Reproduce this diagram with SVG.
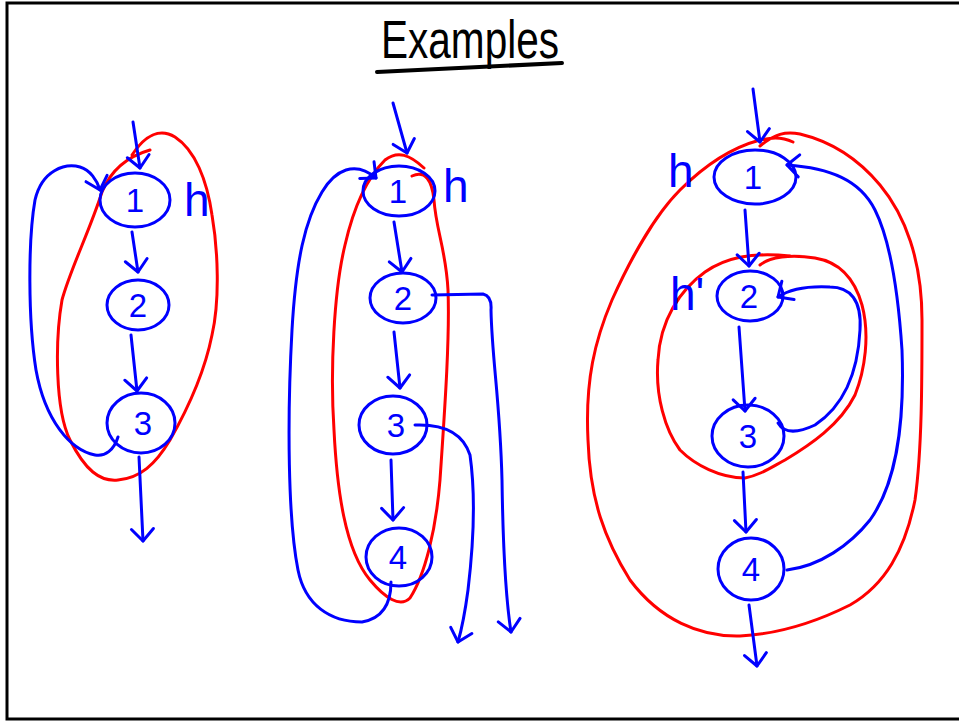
<svg xmlns="http://www.w3.org/2000/svg" width="959" height="721" viewBox="0 0 959 721">
<defs>
<marker id="ah" viewBox="-16 -16 32 32" markerWidth="32" markerHeight="32" markerUnits="userSpaceOnUse" refX="0" refY="0" orient="auto">
<path d="M-12,-11 L0,0 L-12,11" fill="none" stroke="#0000ff" stroke-width="3" stroke-linecap="round" stroke-linejoin="round"/>
</marker>
</defs>
<style>
.node{fill:none;stroke:#0000ff;stroke-width:3}
.lbl{font-family:"Liberation Sans",Arial,sans-serif;font-size:33px;fill:#0000ff;text-anchor:middle}
.h{font-family:"Liberation Sans",Arial,sans-serif;font-size:46px;fill:#0000ff}
.edge{fill:none;stroke:#0000ff;stroke-width:3;stroke-linecap:round;stroke-linejoin:round}
.arr{marker-end:url(#ah)}
.loop{fill:none;stroke:#ff0000;stroke-width:3;stroke-linecap:round;stroke-linejoin:round}
</style>
<rect width="959" height="721" fill="#ffffff"/>
<rect x="7" y="3" width="1000" height="716" fill="none" stroke="#000000" stroke-width="3"/>
<g id="title">
<text x="470" y="58" font-family="Liberation Sans,Arial,sans-serif" font-size="54" text-anchor="middle" textLength="178" lengthAdjust="spacingAndGlyphs" fill="#000000">Examples</text>
<path d="M377,72 L562,63" stroke="#000000" stroke-width="4" stroke-linecap="round"/>
</g>
<g id="loops">
<path class="loop" d="M150,150 Q115,160 102,192 C90,230 70,270 62,300 C55,340 55,410 70,440 C85,470 100,482 118,480 C140,478 155,465 170,440 C190,405 205,370 212,335 C220,300 218,250 212,215 C207,180 195,150 175,137 C160,128 145,135 132,155"/>
<path class="loop" d="M412,176 C425,170 432,180 434,200 C436,230 446,250 448,290 C450,340 444,420 440,480 C436,530 425,575 410,598 C400,608 385,598 370,580 C345,550 337,490 334,430 C330,370 334,290 345,245 C353,210 365,180 385,160 C398,150 410,155 424,168"/>
<path class="loop" d="M793,142 C780,136 770,138 760,140 C730,148 705,165 680,190 C655,215 630,260 612,300 C595,340 585,380 588,440 C590,500 605,540 630,580 C660,620 700,637 740,636 C780,634 820,620 850,605 C885,585 905,550 915,500 C922,450 922,380 922,320 C922,260 905,215 880,185 C855,155 825,140 800,134 C785,131 775,134 760,146"/>
<path class="loop" d="M760,265 C770,257 790,254 815,258 C840,262 855,280 862,305 C870,335 865,370 855,395 C840,425 810,445 785,460 C770,468 760,475 745,478 C720,478 695,465 680,450 C665,430 655,395 658,360 C660,320 680,290 705,272 C725,258 750,252 790,256"/>
</g>
<g id="g1-n1"><ellipse class="node" cx="135" cy="200" rx="35" ry="27"/><text class="lbl" x="135" y="212">1</text></g>
<g id="g1-n2"><ellipse class="node" cx="138" cy="305" rx="31" ry="25"/><text class="lbl" x="138" y="317">2</text></g>
<g id="g1-n3"><ellipse class="node" cx="141" cy="423" rx="34" ry="30"/><text class="lbl" x="143" y="435">3</text></g>
<text id="g1-h" class="h" x="184" y="216">h</text>
<g id="g2-n1"><ellipse class="node" cx="399" cy="191" rx="36" ry="25"/><text class="lbl" x="398" y="203">1</text></g>
<g id="g2-n2"><ellipse class="node" cx="403" cy="298" rx="33" ry="25"/><text class="lbl" x="403" y="310">2</text></g>
<g id="g2-n3"><ellipse class="node" cx="393" cy="425" rx="34" ry="29"/><text class="lbl" x="396" y="437">3</text></g>
<g id="g2-n4"><ellipse class="node" cx="399" cy="557" rx="33" ry="29"/><text class="lbl" x="398" y="569">4</text></g>
<text id="g2-h" class="h" x="443" y="202">h</text>
<g id="g3-n1"><ellipse class="node" cx="755" cy="177" rx="41" ry="27"/><text class="lbl" x="753" y="189">1</text></g>
<g id="g3-n2"><ellipse class="node" cx="750" cy="296" rx="33" ry="25"/><text class="lbl" x="749" y="308">2</text></g>
<g id="g3-n3"><ellipse class="node" cx="748" cy="436" rx="36" ry="31"/><text class="lbl" x="748" y="448">3</text></g>
<g id="g3-n4"><ellipse class="node" cx="751" cy="569" rx="33" ry="31"/><text class="lbl" x="751" y="581">4</text></g>
<text id="g3-h" class="h" x="668" y="187">h</text>
<text id="g3-h2" class="h" x="670" y="310">h'</text>
<g id="connectors">
<path class="edge arr" d="M133,122 L140,168"/>
<path class="edge arr" d="M132,232 L138,272"/>
<path class="edge arr" d="M131,335 L137,391"/>
<path class="edge arr" d="M139,457 L143,541"/>
<path class="edge arr" d="M118,437 C114,450 105,457 95,455 C70,450 45,420 36,370 C28,320 28,240 35,200 C42,170 65,163 80,167 C90,170 97,180 100,190"/>
<path class="edge arr" d="M393,103 L407,153"/>
<path class="edge arr" d="M394,222 L402,272"/>
<path class="edge arr" d="M394,332 L400,388"/>
<path class="edge arr" d="M391,460 L393,520"/>
<path class="edge arr" d="M432,295 L483,294 Q492,296 491,310 C492,360 500,400 502,480 C503,550 506,600 511,632"/>
<path class="edge arr" d="M415,425 C440,424 462,430 470,455 C475,490 474,540 468,590 C464,620 460,635 458,642"/>
<path class="edge arr" d="M391,582 C391,600 385,618 362,622 C330,622 305,605 298,570 C288,520 287,420 292,330 C296,260 305,220 322,192 C335,170 355,160 376,178"/>
<path class="edge arr" d="M753,89 L760,142"/>
<path class="edge arr" d="M745,210 L749,266"/>
<path class="edge arr" d="M739,327 L745,411"/>
<path class="edge arr" d="M743,472 L746,532"/>
<path class="edge arr" d="M749,605 L757,666"/>
<path class="edge arr" d="M778,423 C785,435 800,432 815,425 C845,405 858,370 860,330 C862,300 850,287 830,287 C810,286 790,289 778,297"/>
<path class="edge arr" d="M787,570 C820,566 850,545 870,520 C895,485 905,430 902,350 C898,290 890,240 875,210 C860,180 830,168 787,165"/>
</g>
</svg>
